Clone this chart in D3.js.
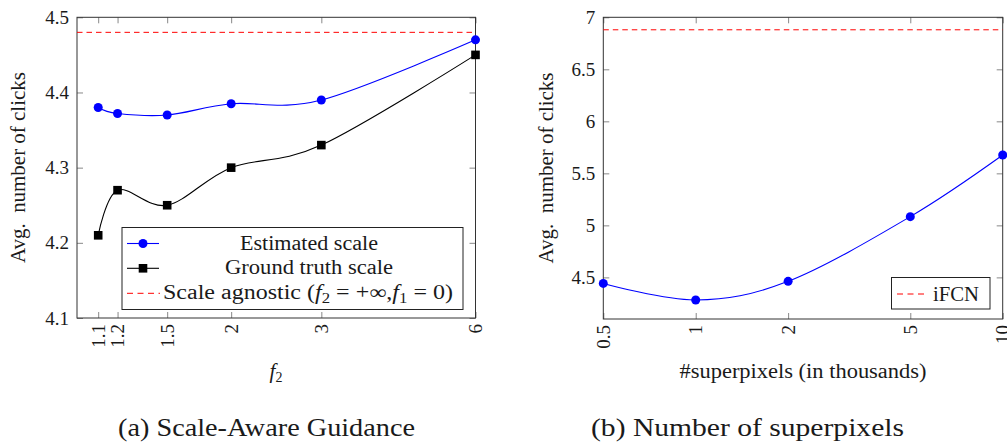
<!DOCTYPE html>
<meta charset="utf-8">
<script src="https://d3js.org/d3.v7.min.js"></script>
<svg id="chart" width="1007" height="444"></svg>
<script>
  // (a) scale-aware guidance
  var f2Values = [1.1, 1.2, 1.5, 2, 3, 6];
  var estimatedScale = [4.38, 4.372, 4.37, 4.385, 4.39, 4.47];
  var groundTruthScale = [4.21, 4.27, 4.25, 4.30, 4.33, 4.45];
  var scaleAgnostic = 4.48;
  var leftYTicks = [4.1, 4.2, 4.3, 4.4, 4.5];

  // (b) number of superpixels
  var superpixels = [0.5, 1, 2, 5, 10];
  var superpixelClicks = [4.442, 4.283, 4.462, 5.084, 5.676];
  var iFCN = 6.88;
  var rightYTicks = [4.5, 5, 5.5, 6, 6.5, 7];

  var blue = "#0000ff", red = "#ff0000";
  var tickLen = 6;

  d3.select("body").style("margin", "0px");
  var svg = d3.select("#chart").style("position", "absolute").style("left", "0px").style("top", "0px");

  var xL = d3.scaleLog().domain([1, 6]).range([77, 475.5]);
  var yL = d3.scaleLinear().domain([4.1, 4.5]).range([318, 17.3]);
  var xR = d3.scaleLog().domain([0.5, 10]).range([603.3, 1002.7]);
  var yR = d3.scaleLinear().domain([4.1, 7]).range([319, 17.3]);

  function drawAxes(x, y, xTicks, yTicks) {
    var x0 = x.range()[0], x1 = x.range()[1];
    var yb = y.range()[0], yt = y.range()[1];
    var g = svg.append("g");

    // bottom with rotated labels
    var bottom = g.append("g")
      .attr("transform", "translate(0," + yb + ")")
      .call(d3.axisBottom(x).tickValues(xTicks).tickSizeInner(-tickLen)
        .tickSizeOuter(0).tickFormat(function(d) { return String(d); }));
    bottom.selectAll(".tick text")
      .attr("transform", "rotate(-90)")
      .attr("x", -6)
      .attr("y", 0)
      .attr("dy", "0.33em")
      .style("text-anchor", "end");

    g.append("g")
      .attr("transform", "translate(0," + yt + ")")
      .call(d3.axisTop(x).tickValues(xTicks).tickSizeInner(-tickLen)
        .tickSizeOuter(0).tickFormat(""));

    g.append("g")
      .attr("transform", "translate(" + x0 + ",0)")
      .call(d3.axisLeft(y).tickValues(yTicks).tickSizeInner(-tickLen)
        .tickSizeOuter(0).tickPadding(8).tickFormat(function(d) { return String(d); }));

    g.append("g")
      .attr("transform", "translate(" + x1 + ",0)")
      .call(d3.axisRight(y).tickValues(yTicks).tickSizeInner(-tickLen)
        .tickSizeOuter(0).tickFormat(""));

    g.selectAll(".domain").remove();
    g.selectAll(".tick line").attr("stroke", "#888");
    g.selectAll(".tick text").style("font-size", "19px");

    g.append("rect")
      .attr("x", x0).attr("y", yt)
      .attr("width", x1 - x0).attr("height", yb - yt)
      .attr("fill", "none").attr("stroke", "#333").attr("stroke-width", 1);
  }

  function drawSeries(x, y, xs, ys, color, marker) {
    var pts = xs.map(function(d, i) { return [x(d), y(ys[i])]; });
    svg.append("path")
      .attr("d", d3.line().curve(d3.curveCardinal.tension(0))(pts))
      .attr("fill", "none")
      .attr("stroke", color)
      .attr("stroke-width", 1.1);
    if (marker == "circle") {
      svg.append("g").selectAll("circle").data(pts).enter().append("circle")
        .attr("cx", function(d) { return d[0]; })
        .attr("cy", function(d) { return d[1]; })
        .attr("r", 4.5)
        .attr("fill", color);
    } else {
      svg.append("g").selectAll("rect").data(pts).enter().append("rect")
        .attr("x", function(d) { return d[0] - 4.3; })
        .attr("y", function(d) { return d[1] - 4.3; })
        .attr("width", 8.6).attr("height", 8.6)
        .attr("fill", color);
    }
  }

  function drawDashed(x, y, v) {
    svg.append("line")
      .attr("x1", x.range()[0]).attr("x2", x.range()[1])
      .attr("y1", y(v)).attr("y2", y(v))
      .attr("stroke", red)
      .attr("stroke-width", 1)
      .attr("stroke-dasharray", "5.5,4");
  }

  function label(parent, size) {
    return parent.append("text").style("font-size", size + "px");
  }

  function sub(textSel, base, s) {
    textSel.append("tspan").style("font-style", "italic").text(base);
    textSel.append("tspan").attr("dy", 4).style("font-size", "14px").text(s);
  }

  // ---- left panel ----
  drawAxes(xL, yL, f2Values, leftYTicks);
  drawDashed(xL, yL, scaleAgnostic);
  drawSeries(xL, yL, f2Values, groundTruthScale, "#000", "square");
  drawSeries(xL, yL, f2Values, estimatedScale, blue, "circle");

  label(svg, 20)
    .attr("transform", "translate(25,167.6) rotate(-90)")
    .attr("text-anchor", "middle")
    .attr("textLength", 191).attr("lengthAdjust", "spacingAndGlyphs")
    .text("Avg.\u00a0 number of clicks");

  var f2lab = label(svg, 21)
    .attr("x", 276).attr("y", 378).attr("text-anchor", "middle");
  sub(f2lab, "f", "2");

  // legend (a)
  var legL = svg.append("g");
  legL.append("rect")
    .attr("x", 122).attr("y", 227.5).attr("width", 341).attr("height", 82)
    .attr("fill", "#fff").attr("stroke", "#222").attr("stroke-width", 1);
  var rows = [243.5, 268.3, 293.3];
  legL.append("line").attr("x1", 127).attr("x2", 159).attr("y1", rows[0]).attr("y2", rows[0])
    .attr("stroke", blue).attr("stroke-width", 1.1);
  legL.append("circle").attr("cx", 143).attr("cy", rows[0]).attr("r", 4.5).attr("fill", blue);
  legL.append("line").attr("x1", 127).attr("x2", 159).attr("y1", rows[1]).attr("y2", rows[1])
    .attr("stroke", "#000").attr("stroke-width", 1.1);
  legL.append("rect").attr("x", 143 - 4.3).attr("y", rows[1] - 4.3).attr("width", 8.6).attr("height", 8.6);
  legL.append("line").attr("x1", 127).attr("x2", 160).attr("y1", rows[2]).attr("y2", rows[2])
    .attr("stroke", red).attr("stroke-width", 1).attr("stroke-dasharray", "6,4.5");

  label(legL, 20)
    .attr("x", 309).attr("y", rows[0] + 6).attr("text-anchor", "middle")
    .attr("textLength", 138).attr("lengthAdjust", "spacingAndGlyphs")
    .text("Estimated scale");
  label(legL, 20)
    .attr("x", 309).attr("y", rows[1] + 6).attr("text-anchor", "middle")
    .attr("textLength", 168).attr("lengthAdjust", "spacingAndGlyphs")
    .text("Ground truth scale");
  var agn = label(legL, 20)
    .attr("x", 308).attr("y", rows[2] + 6).attr("text-anchor", "middle")
    .attr("textLength", 290).attr("lengthAdjust", "spacingAndGlyphs");
  agn.append("tspan").text("Scale agnostic (");
  sub(agn, "f", "2");
  agn.append("tspan").attr("dy", -4).text(" = +\u221e,");
  sub(agn, "f", "1");
  agn.append("tspan").attr("dy", -4).text(" = 0)");

  // ---- right panel ----
  drawAxes(xR, yR, superpixels, rightYTicks);
  drawDashed(xR, yR, iFCN);
  drawSeries(xR, yR, superpixels, superpixelClicks, blue, "circle");

  label(svg, 20)
    .attr("transform", "translate(552.5,168) rotate(-90)")
    .attr("text-anchor", "middle")
    .attr("textLength", 191).attr("lengthAdjust", "spacingAndGlyphs")
    .text("Avg.\u00a0 number of clicks");

  label(svg, 20)
    .attr("x", 803).attr("y", 378).attr("text-anchor", "middle")
    .attr("textLength", 247).attr("lengthAdjust", "spacingAndGlyphs")
    .text("#superpixels (in thousands)");

  var legR = svg.append("g");
  legR.append("rect")
    .attr("x", 891.5).attr("y", 277.5).attr("width", 98.5).attr("height", 31.5)
    .attr("fill", "#fff").attr("stroke", "#222").attr("stroke-width", 1);
  legR.append("line").attr("x1", 897).attr("x2", 926).attr("y1", 294).attr("y2", 294)
    .attr("stroke", red).attr("stroke-width", 1).attr("stroke-dasharray", "6,4.5");
  label(legR, 20)
    .attr("x", 933).attr("y", 300.5)
    .attr("textLength", 46).attr("lengthAdjust", "spacingAndGlyphs")
    .text("iFCN");

  // captions
  label(svg, 25)
    .attr("x", 266.5).attr("y", 436).attr("text-anchor", "middle")
    .attr("textLength", 297).attr("lengthAdjust", "spacingAndGlyphs")
    .text("(a) Scale-Aware Guidance");
  label(svg, 25)
    .attr("x", 747.5).attr("y", 436).attr("text-anchor", "middle")
    .attr("textLength", 313).attr("lengthAdjust", "spacingAndGlyphs")
    .text("(b) Number of superpixels");

  svg.selectAll("text").style("font-family", "'Liberation Serif'").attr("fill", "#1a1a1a");
</script>
